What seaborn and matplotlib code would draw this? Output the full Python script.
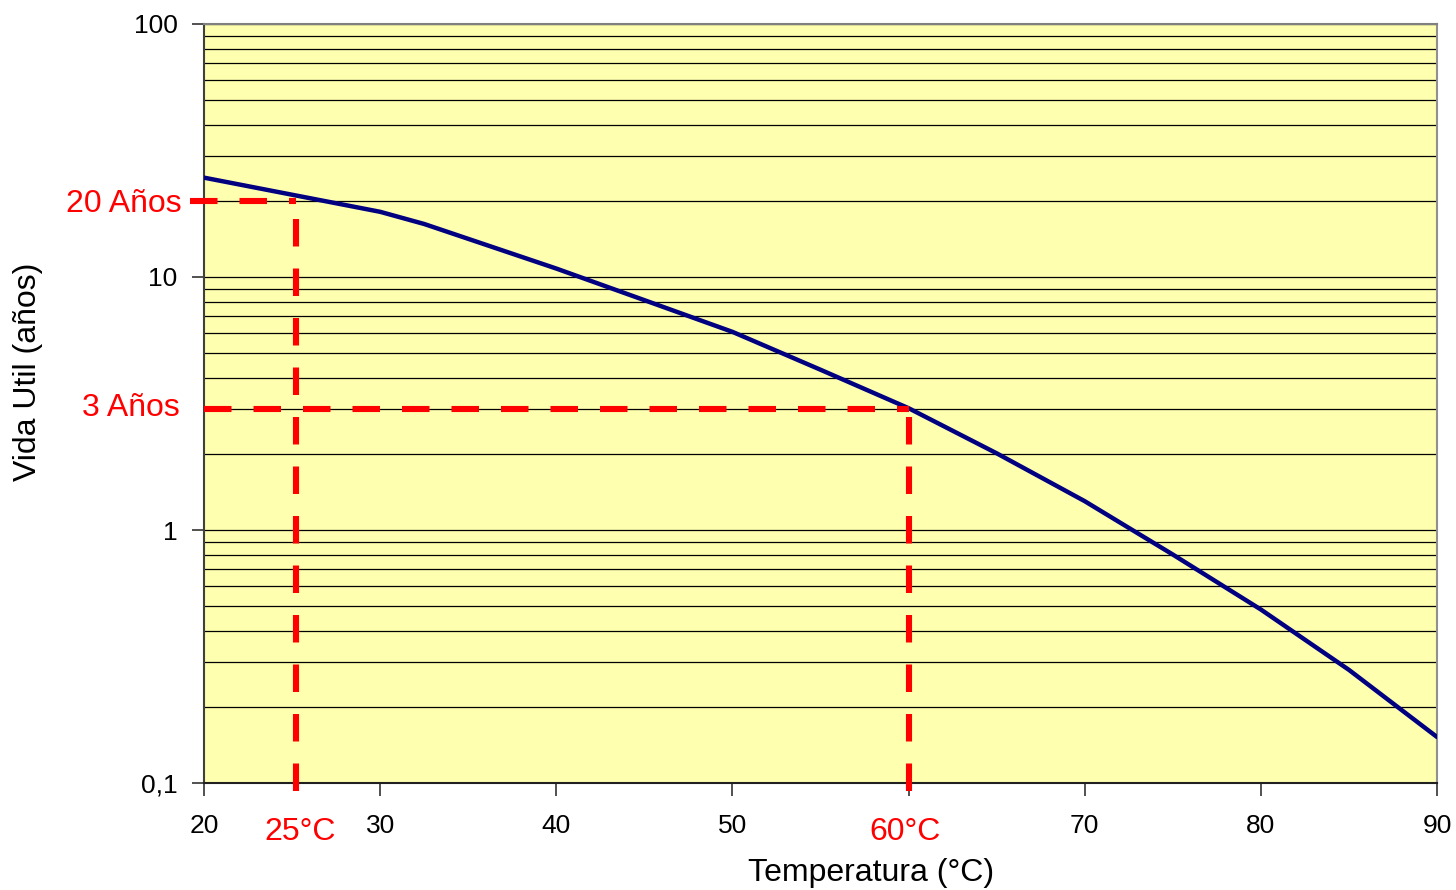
import matplotlib
matplotlib.use("Agg")
import matplotlib.pyplot as plt
import seaborn as sns
import pandas as pd
from matplotlib.ticker import LogLocator, FixedLocator, NullFormatter

# ---- data ----
temperatura = [20, 30, 32.5, 40, 45, 50, 55, 60, 65, 70, 75, 80, 85, 90]
vida_util = [24.7, 18.1, 16.2, 10.8, 8.1, 6.07, 4.3, 3.03, 2.01, 1.30, 0.80, 0.485, 0.28, 0.152]
x_ticks = [20, 30, 40, 50, 60, 70, 80, 90]
x_tick_labels = ["20", "30", "40", "50", "", "70", "80", "90"]
y_ticks = [0.1, 1, 10, 100]
y_tick_labels = ["0,1", "1", "10", "100"]
ref_temp_a, ref_life_a = 25.2, 20
ref_temp_b, ref_life_b = 60, 3

sns.set_theme(style="white")
plt.rcParams["font.family"] = ["Liberation Sans", "DejaVu Sans"]
plt.rcParams["xtick.bottom"] = True
plt.rcParams["ytick.left"] = True

fig = plt.figure(figsize=(14.56, 8.90), dpi=100)
ax = fig.add_axes([204/1456, 1-783/890, (1437-204)/1456, (783-24)/890])
ax.set_facecolor("#FFFFB0")

df = pd.DataFrame({"Temperatura": temperatura, "Vida": vida_util})
sns.lineplot(data=df, x="Temperatura", y="Vida", ax=ax, color="#000080",
             linewidth=3.2, zorder=5)

ax.set_yscale("log")
ax.set_xlim(20, 90)
ax.set_ylim(0.1, 100)

# gridlines (major + minor)
ax.yaxis.set_major_locator(FixedLocator(y_ticks))
ax.yaxis.set_minor_locator(LogLocator(base=10, subs=range(2, 10)))
ax.yaxis.set_minor_formatter(NullFormatter())
ax.grid(True, axis="y", which="both", color="black", linewidth=0.9)
ax.grid(False, axis="x")
ax.set_axisbelow(True)

ax.set_xticks(x_ticks)
ax.set_xticklabels(x_tick_labels)
ax.set_yticklabels(y_tick_labels)
ax.tick_params(axis="both", which="major", direction="out", length=9, width=1.2,
               color="#333333", labelcolor="black", bottom=True, left=True)
ax.tick_params(axis="y", which="major", labelsize=19, pad=10)
ax.tick_params(axis="x", which="major", labelsize=19, pad=13)
ax.tick_params(axis="y", which="minor", length=0, left=False)
for lbl in ax.get_yticklabels():
    lbl.set_verticalalignment("center_baseline")
ax.set_xlabel("")
ax.set_ylabel("")

for side, col, lw in [("left", "#404040", 1.5), ("bottom", "#202020", 1.5),
                      ("top", "#808080", 1.5), ("right", "#909090", 1.5)]:
    ax.spines[side].set_visible(True)
    ax.spines[side].set_color(col)
    ax.spines[side].set_linewidth(lw)

# red dashed reference lines
red_kw = dict(color="#FF0000", linewidth=4.4, dashes=(4.5, 3.6), clip_on=False,
              zorder=6, solid_capstyle="butt", dash_capstyle="butt")
ax.plot([19.2, ref_temp_a], [ref_life_a, ref_life_a], **red_kw)
ax.plot([ref_temp_a, ref_temp_a], [0.093, ref_life_a], **red_kw)
ax.plot([20, ref_temp_b], [ref_life_b, ref_life_b], **red_kw)
ax.plot([ref_temp_b, ref_temp_b], [0.093, ref_life_b], **red_kw)

# red annotations
fig.text(182/1456, 1-201/890, "20 Años", color="#FF0000", fontsize=23,
         ha="right", va="center_baseline")
fig.text(180/1456, 1-405/890, "3 Años", color="#FF0000", fontsize=23,
         ha="right", va="center_baseline")
fig.text(300/1456, 1-829/890, "25°C", color="#FF0000", fontsize=23,
         ha="center", va="center_baseline")
fig.text(905/1456, 1-829/890, "60°C", color="#FF0000", fontsize=23,
         ha="center", va="center_baseline")

# axis titles
fig.text(28/1456, 1-372/890, "Vida Util (años)", rotation=90, fontsize=23,
         ha="center", va="center", color="black")
fig.text(871/1456, 1-873/890, "Temperatura (°C)", fontsize=23,
         ha="center", va="center", color="black")

fig.savefig("out.png", dpi=100, facecolor="white")
